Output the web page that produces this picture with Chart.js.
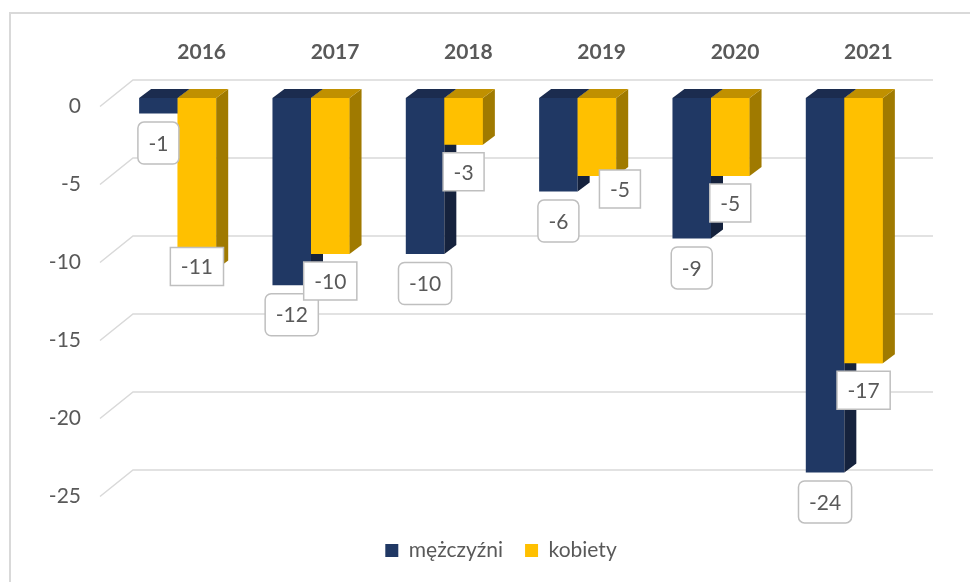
<!DOCTYPE html>
<html>
<head>
<meta charset="utf-8">
<script src="https://cdn.jsdelivr.net/npm/chart.js@4/dist/chart.umd.min.js"></script>
<style>
html, body { margin: 0; padding: 0; background: #fff; }
canvas { display: block; }
</style>
</head>
<body>
<canvas id="chart" width="970" height="582"></canvas>
<script>
const years = ["2016", "2017", "2018", "2019", "2020", "2021"];
const men = [-1, -12, -10, -6, -9, -24];
const women = [-11, -10, -3, -5, -5, -17];
const yTicks = [0, -5, -10, -15, -20, -25];

// label nudges for the kobiety boxes (moved by hand in the original)
const womenLabelShiftX = [0, 0, 0, 23, 0, 0];
const womenLabelShiftY = [-30, 0, 0, -14, 0, 0];

const textGray = "#595959";
const gridGray = "#D9D9D9";
const font = "Lato";
const DX = 12, DY = 9; // bar depth

function drawFaces(ctx, meta, ds) {
    meta.data.forEach(bar => {
        const { x, y, base, width } = bar.getProps(["x", "y", "base", "width"], true);
        const l = x - width / 2, r = x + width / 2;
        const top = Math.min(y, base), bot = Math.max(y, base);
        ctx.fillStyle = ds.sideColor;
        ctx.beginPath();
        ctx.moveTo(r, top);
        ctx.lineTo(r + DX, top - DY);
        ctx.lineTo(r + DX, bot - DY);
        ctx.lineTo(r, bot);
        ctx.closePath();
        ctx.fill();
        ctx.fillStyle = ds.topColor;
        ctx.beginPath();
        ctx.moveTo(l, top);
        ctx.lineTo(l + DX, top - DY);
        ctx.lineTo(r + DX, top - DY);
        ctx.lineTo(r, top);
        ctx.closePath();
        ctx.fill();
    });
}

const bars3d = {
    id: "bars3d",
    beforeDraw(chart) {
        const ctx = chart.ctx;
        ctx.save();
        ctx.strokeStyle = gridGray;
        ctx.lineWidth = 2;
        ctx.strokeRect(10, 13, 1000, 640);
        ctx.restore();
    },
    beforeDatasetsDraw(chart) {
        const { ctx, chartArea: a } = chart;
        const y = chart.scales.y;
        ctx.save();
        ctx.strokeStyle = gridGray;
        ctx.lineWidth = 1.5;
        y.ticks.forEach(t => {
            const py = y.getPixelForValue(t.value);
            ctx.beginPath();
            ctx.moveTo(a.left - 11, py + 8.5);
            ctx.lineTo(a.left + 22, py - 18);
            ctx.lineTo(a.right + 22, py - 18);
            ctx.stroke();
        });
        ctx.restore();
    },
    afterDatasetsDraw(chart) {
        const ctx = chart.ctx;
        const ds = chart.data.datasets;
        ctx.save();
        // men first, then women drawn again on top so they hide the men's side faces
        drawFaces(ctx, chart.getDatasetMeta(0), ds[0]);
        chart.getDatasetMeta(1).data.forEach(b => b.draw(ctx));
        drawFaces(ctx, chart.getDatasetMeta(1), ds[1]);

        ctx.font = "21px " + font;
        ctx.textAlign = "center";
        ctx.textBaseline = "middle";
        ds.forEach((d, i) => {
            const meta = chart.getDatasetMeta(i);
            meta.data.forEach((bar, j) => {
                const text = String(d.data[j]);
                const w = ctx.measureText(text).width + 21;
                const h = i === 0 ? 42 : 38;
                const cx = bar.x + (i === 1 ? womenLabelShiftX[j] : 0);
                const cy = bar.y + (i === 0 ? 29.5 : 27 + womenLabelShiftY[j]);
                ctx.beginPath();
                ctx.roundRect(cx - w / 2, cy - h / 2, w, h, i === 0 ? 6 : 0);
                ctx.fillStyle = "#fff";
                ctx.fill();
                ctx.strokeStyle = "#BFBFBF";
                ctx.lineWidth = 1.5;
                ctx.stroke();
                ctx.fillStyle = textGray;
                ctx.fillText(text, cx, cy + 1);
            });
        });
        ctx.restore();
    }
};

new Chart(document.getElementById("chart"), {
    type: "bar",
    data: {
        labels: years,
        datasets: [{
            label: "mężczyźni",
            data: men,
            backgroundColor: "#203864",
            topColor: "#1B2C4F",
            sideColor: "#15223D",
            borderWidth: 0,
            categoryPercentage: 0.578,
            barPercentage: 1
        }, {
            label: "kobiety",
            data: women,
            backgroundColor: "#FFC000",
            topColor: "#C09000",
            sideColor: "#A07A00",
            borderWidth: 0,
            categoryPercentage: 0.578,
            barPercentage: 1
        }]
    },
    options: {
        responsive: false,
        animation: false,
        layout: { padding: { top: 38, left: 40, right: 8, bottom: 11 } },
        plugins: {
            legend: {
                position: "bottom",
                labels: {
                    boxWidth: 13,
                    boxHeight: 13,
                    padding: 22,
                    color: textGray,
                    font: { family: font, size: 21 }
                }
            },
            tooltip: { enabled: false }
        },
        scales: {
            x: {
                position: "top",
                grid: { display: false, drawTicks: false },
                border: { display: false },
                ticks: {
                    color: textGray,
                    font: { family: font, size: 21, weight: "bold" },
                    padding: 33,
                    labelOffset: 24
                },
                afterFit: s => { s.height = 60; }
            },
            x2: {
                type: "category",
                position: "bottom",
                grid: { display: false, drawTicks: false },
                border: { display: false },
                ticks: { display: false },
                afterFit: s => { s.height = 30; }
            },
            y: {
                min: -25,
                max: 0,
                grid: { display: false, drawTicks: false },
                border: { display: false },
                ticks: {
                    color: textGray,
                    font: { family: font, size: 21 },
                    padding: 30,
                    labelOffset: 8.5
                },
                afterBuildTicks: s => { s.ticks = yTicks.map(v => ({ value: v })); },
                afterFit: s => { s.width = 71; }
            },
            y2: {
                type: "linear",
                position: "right",
                grid: { display: false, drawTicks: false },
                border: { display: false },
                ticks: { display: false },
                afterFit: s => { s.width = 51; }
            }
        }
    },
    plugins: [bars3d]
});
</script>
</body>
</html>
